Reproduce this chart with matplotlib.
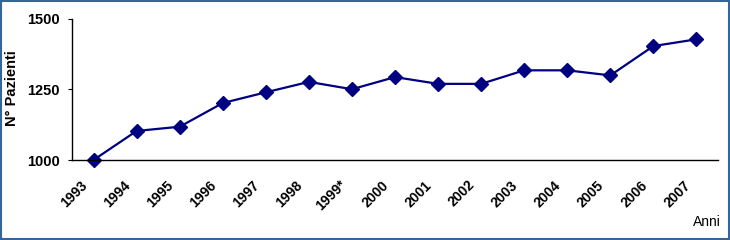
import matplotlib
matplotlib.use("Agg")
import matplotlib.pyplot as plt
import matplotlib.transforms as mtrans
from matplotlib.patches import Rectangle

years = ["1993", "1994", "1995", "1996", "1997", "1998", "1999*", "2000",
         "2001", "2002", "2003", "2004", "2005", "2006", "2007"]
patients = [1000, 1103, 1118, 1202, 1240, 1277, 1251, 1294,
            1270, 1270, 1318, 1318, 1300, 1404, 1428]
yticks = [1000, 1250, 1500]

plt.rcParams['font.family'] = ['Liberation Sans', 'DejaVu Sans']

fig = plt.figure(figsize=(7.3, 2.4), dpi=100)
ax = fig.add_axes([72/730, 80/240, 646/730, 141/240])

x = list(range(len(years)))
ax.plot(x, patients, color='#000080', lw=1.6, marker='D', ms=7.5,
        markerfacecolor='#000080', markeredgecolor='#000080', clip_on=False)

ax.set_xlim(-0.5, len(years) - 0.5)
ax.set_ylim(1000, 1500)
ax.set_yticks(yticks)
ax.set_yticklabels([str(v) for v in yticks], fontsize=10.5, fontweight='bold')
ax.set_xticks(x)
ax.set_xticklabels(years, rotation=45, ha='right', va='center', rotation_mode='anchor',
                   fontsize=10, fontweight='bold')
ax.tick_params(axis='x', length=0, pad=16.5)
ax.tick_params(axis='y', length=3, direction='out', pad=5.8)
for s in ['top', 'right']:
    ax.spines[s].set_visible(False)
ax.spines['left'].set_linewidth(1)
ax.spines['bottom'].set_linewidth(1)
shift = mtrans.ScaledTranslation(-6/72, 0, fig.dpi_scale_trans)
for lbl in ax.get_xticklabels():
    lbl.set_transform(lbl.get_transform() + shift)

fig.text(12.5/730, 1 - 88.5/240, "N° Pazienti", rotation=90, ha='center', va='center',
         fontsize=10.5, fontweight='bold')
fig.text(721/730, 1 - 222/240, "Anni", ha='right', va='center', fontsize=10)

fig.patches.append(Rectangle((1/730, 1/240), 728/730, 238/240, transform=fig.transFigure,
                             fill=False, edgecolor='#336699', lw=1.5))

fig.savefig("out.png", dpi=100)
